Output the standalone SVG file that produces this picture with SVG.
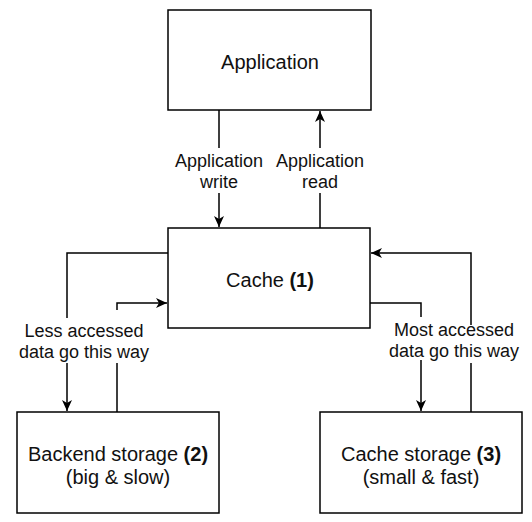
<svg xmlns="http://www.w3.org/2000/svg" width="532" height="522" viewBox="0 0 532 522">
<style>
.box{fill:#fff;stroke:#000;stroke-width:1.5}
.edge{fill:none;stroke:#000;stroke-width:1.5}
.t{font-family:"Liberation Sans",Arial,sans-serif;font-size:20px;fill:#111;text-anchor:middle}
.l{font-family:"Liberation Sans",Arial,sans-serif;font-size:18px;fill:#111;text-anchor:middle}
.b{font-weight:bold}
</style>
<defs>
<marker id="arr" markerUnits="userSpaceOnUse" markerWidth="12" markerHeight="12" viewBox="0 0 12 12" refX="11" refY="6" orient="auto">
<path d="M0,1 L11,6 L0,11 L3,6 z" fill="#000"/>
</marker>
</defs>
<rect width="532" height="522" fill="#fff"/>
<g id="connectors">
<path class="edge" d="M219 110 V148 M219 193 V227" marker-end="url(#arr)"/>
<text class="l" x="219" y="167">Application</text>
<text class="l" x="219" y="188">write</text>
<path class="edge" d="M320 228 V193 M320 148 V111" marker-end="url(#arr)"/>
<text class="l" x="320" y="167">Application</text>
<text class="l" x="320" y="188">read</text>
<path class="edge" d="M168 253 H67 V318 M67 363 V411" marker-end="url(#arr)"/>
<path class="edge" d="M117 412 V363 M117 310 V303 H167" marker-end="url(#arr)"/>
<text class="l" x="84" y="337">Less accessed</text>
<text class="l" x="84" y="358">data go this way</text>
<path class="edge" d="M370 303 H421 V317 M421 360 V411" marker-end="url(#arr)"/>
<path class="edge" d="M471 412 V363 M471 325 V253 H371" marker-end="url(#arr)"/>
<text class="l" x="454" y="336">Most accessed</text>
<text class="l" x="454" y="357">data go this way</text>
</g>
<g id="application">
<rect class="box" x="168" y="10" width="203" height="100"/>
<text class="t" x="270" y="69">Application</text>
</g>
<g id="cache">
<rect class="box" x="168" y="228" width="202" height="100"/>
<text class="t" x="270" y="287">Cache <tspan class="b">(1)</tspan></text>
</g>
<g id="backend">
<rect class="box" x="17" y="412" width="202" height="101"/>
<text class="t" x="118" y="461">Backend storage <tspan class="b">(2)</tspan></text>
<text class="t" x="118" y="484">(big &amp; slow)</text>
</g>
<g id="cachestorage">
<rect class="box" x="320" y="412" width="202" height="101"/>
<text class="t" x="421" y="461">Cache storage <tspan class="b">(3)</tspan></text>
<text class="t" x="421" y="484">(small &amp; fast)</text>
</g>
</svg>
